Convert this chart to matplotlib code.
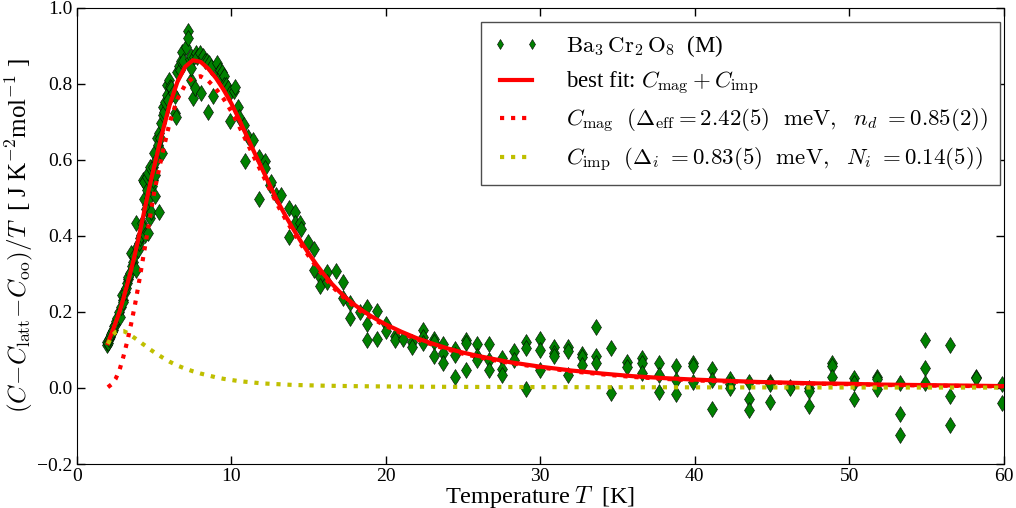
import matplotlib
matplotlib.use("Agg")
import matplotlib.pyplot as plt

plt.rcParams["font.family"] = "serif"
plt.rcParams["font.serif"] = ["Liberation Serif", "DejaVu Serif"]
plt.rcParams["mathtext.fontset"] = "cm"
plt.rcParams["axes.unicode_minus"] = True

# measured heat capacity, Ba3Cr2O8 (M)
T_data = [
    1.92, 1.95, 2.00, 2.05, 2.13, 2.20, 2.28, 2.35, 2.42, 2.46, 2.55, 2.62, 2.71, 2.78,
    2.85, 2.89, 2.95, 3.00, 3.08, 3.15, 3.21, 3.28, 3.32, 3.40, 3.49, 3.55, 3.64, 3.70,
    3.80, 3.81, 3.86, 3.92, 4.00, 4.07, 4.13, 4.18, 4.25, 4.29, 4.35, 4.35, 4.40, 4.45,
    4.50, 4.50, 4.56, 4.61, 4.61, 4.66, 4.72, 4.72, 4.78, 4.84, 4.93, 4.93, 4.98, 5.04,
    5.08, 5.10, 5.19, 5.26, 5.32, 5.32, 5.36, 5.41, 5.48, 5.54, 5.58, 5.65, 5.72, 5.80,
    5.85, 5.90, 5.97, 6.01, 6.10, 6.22, 6.33, 6.33, 6.44, 6.50, 6.60, 6.66, 6.75, 6.83,
    6.87, 7.05, 7.20, 7.20, 7.30, 7.35, 7.41, 7.41, 7.52, 7.55, 7.63, 7.70, 7.78, 7.95,
    8.06, 8.16, 8.27, 8.43, 8.50, 8.55, 8.70, 8.81, 9.06, 9.13, 9.24, 9.35, 9.41, 9.50,
    9.55, 9.63, 9.75, 9.90, 9.93, 10.15, 10.20, 10.45, 10.50, 10.80, 10.86, 11.10, 11.40,
    11.80, 11.80, 12.15, 12.15, 12.50, 12.55, 12.90, 13.20, 13.70, 13.70, 14.10, 14.10,
    14.45, 14.50, 14.95, 15.35, 15.35, 15.75, 15.75, 16.20, 16.20, 16.80, 17.20, 17.20,
    17.70, 17.70, 18.30, 18.80, 18.80, 18.80, 19.40, 19.40, 20.00, 20.00, 20.60, 20.60,
    21.10, 21.70, 21.70,
    22.4, 22.4, 22.4, 23.1, 23.1, 23.1, 23.7, 23.7, 23.7, 24.5, 24.5, 24.5, 25.2, 25.2, 25.2,
    25.9, 25.9, 25.9, 26.7, 26.7, 26.7, 27.5, 27.5, 27.5, 28.3, 28.3, 29.1, 29.1, 29.1,
    30.0, 30.0, 30.0, 30.9, 30.9, 30.9, 31.8, 31.8, 31.8, 32.7, 32.7, 32.7, 33.6, 33.6, 33.6,
    34.6, 34.6, 35.6, 35.6, 36.6, 36.6, 36.6, 37.7, 37.7, 37.7, 38.8, 38.8, 38.8,
    39.9, 39.9, 39.9, 41.1, 41.1, 41.1, 42.3, 42.3, 42.3, 43.5, 43.5, 43.5, 44.9, 44.9, 44.9,
    46.2, 46.2, 47.4, 47.4, 47.4, 48.9, 48.9, 48.9, 50.3, 50.3, 50.3, 51.8, 51.8, 51.8,
    53.3, 53.3, 53.3, 54.9, 54.9, 54.9, 56.5, 56.5, 56.5, 58.2, 58.2, 59.9, 59.9,
]
C_data = [
    0.113, 0.122, 0.118, 0.128, 0.135, 0.142, 0.148, 0.153, 0.162, 0.166, 0.176, 0.185, 0.201, 0.188,
    0.214, 0.245, 0.232, 0.227, 0.252, 0.262, 0.276, 0.286, 0.293, 0.302, 0.354, 0.322, 0.332, 0.346,
    0.311, 0.435, 0.372, 0.363, 0.381, 0.394, 0.402, 0.433, 0.421, 0.547, 0.497, 0.543, 0.403, 0.472,
    0.521, 0.556, 0.482, 0.407, 0.565, 0.501, 0.447, 0.580, 0.464, 0.530, 0.547, 0.582, 0.618, 0.561,
    0.505, 0.600, 0.657, 0.639, 0.464, 0.670, 0.657, 0.697, 0.618, 0.718, 0.738, 0.726, 0.752, 0.797,
    0.771, 0.758, 0.811, 0.793, 0.790, 0.777, 0.767, 0.724, 0.714, 0.830, 0.847, 0.837, 0.860, 0.885,
    0.859, 0.898, 0.938, 0.921, 0.866, 0.809, 0.874, 0.841, 0.762, 0.870, 0.789, 0.880, 0.870, 0.881,
    0.777, 0.874, 0.859, 0.859, 0.727, 0.854, 0.845, 0.768, 0.856, 0.828, 0.837, 0.824, 0.830, 0.820,
    0.797, 0.797, 0.790, 0.701, 0.775, 0.780, 0.791, 0.740, 0.712, 0.692, 0.598, 0.661, 0.651,
    0.607, 0.497, 0.596, 0.578, 0.534, 0.543, 0.508, 0.508, 0.473, 0.398, 0.464, 0.434,
    0.433, 0.418, 0.385, 0.365, 0.311, 0.293, 0.267, 0.306, 0.280, 0.309, 0.280, 0.236,
    0.223, 0.184, 0.201, 0.214, 0.168, 0.127, 0.203, 0.128, 0.168, 0.151, 0.137, 0.125,
    0.128, 0.122, 0.109,
    0.153, 0.135, 0.118, 0.128, 0.122, 0.084, 0.116, 0.091, 0.065, 0.103, 0.087, 0.030, 0.126, 0.118, 0.046,
    0.115, 0.084, 0.074, 0.115, 0.074, 0.046, 0.078, 0.049, 0.034, 0.097, 0.074, 0.122, 0.104, -0.004,
    0.129, 0.100, 0.047, 0.109, 0.093, 0.084, 0.109, 0.096, 0.034, 0.089, 0.081, 0.061, 0.160, 0.084, 0.065,
    0.104, -0.014, 0.069, 0.056, 0.078, 0.067, 0.040, 0.067, 0.034, -0.010, 0.058, 0.021, -0.016,
    0.065, 0.058, 0.017, 0.049, 0.021, -0.056, 0.023, 0.011, -0.001, 0.017, -0.030, -0.058, 0.017, 0.011, -0.036,
    0.003, -0.001, -0.001, -0.007, -0.047, 0.067, 0.058, 0.030, 0.025, 0.012, -0.030, 0.030, 0.023, -0.004,
    0.012, -0.069, -0.125, 0.126, 0.052, 0.014, 0.113, -0.021, -0.097, 0.030, 0.025, 0.011, -0.039,
]

# fit curves
T_fit = [
    2.0, 2.25, 2.5, 2.75, 3.0, 3.25, 3.5, 3.75, 4.0, 4.25, 4.5, 4.75, 5.0, 5.5, 6.0, 6.5,
    7.0, 7.5, 8.0, 8.5, 9.0, 9.5, 10.0, 10.5, 11.0, 11.5, 12.0, 12.5, 13.0, 13.5, 14.0,
    14.5, 15.0, 15.5, 16.0, 16.5, 17.0, 17.5, 18.0, 18.5, 19.0, 19.5, 20.0, 21.0, 22.0,
    23.0, 24.0, 25.0, 26.0, 27.0, 28.0, 29.0, 30.0, 32.0, 34.0, 36.0, 38.0, 40.0, 42.0,
    44.0, 46.0, 48.0, 50.0, 52.0, 54.0, 56.0, 58.0, 60.0,
]
C_total = [
    0.118, 0.145, 0.172, 0.200, 0.235, 0.272, 0.310, 0.352, 0.397, 0.445, 0.493, 0.540, 0.583, 0.668, 0.745, 0.805,
    0.845, 0.862, 0.858, 0.840, 0.815, 0.784, 0.748, 0.706, 0.662, 0.618, 0.575, 0.532, 0.490, 0.453, 0.418,
    0.385, 0.354, 0.325, 0.298, 0.274, 0.253, 0.234, 0.218, 0.203, 0.190, 0.178, 0.167, 0.148, 0.131,
    0.117, 0.104, 0.093, 0.084, 0.076, 0.068, 0.062, 0.056, 0.046, 0.038, 0.031, 0.026, 0.022, 0.019,
    0.016, 0.014, 0.012, 0.011, 0.009, 0.008, 0.007, 0.006, 0.005,
]
C_mag = [
    0.002, 0.010, 0.024, 0.047, 0.082, 0.122, 0.168, 0.218, 0.275, 0.335, 0.395, 0.455, 0.515, 0.612, 0.698, 0.760,
    0.797, 0.816, 0.820, 0.808, 0.787, 0.760, 0.727, 0.688, 0.646, 0.604, 0.563, 0.521, 0.480, 0.444, 0.410,
    0.378, 0.347, 0.319, 0.292, 0.268, 0.248, 0.229, 0.213, 0.198, 0.186, 0.174, 0.163, 0.144, 0.128,
    0.114, 0.101, 0.090, 0.081, 0.073, 0.066, 0.060, 0.054, 0.044, 0.036, 0.029, 0.024, 0.020, 0.017,
    0.015, 0.013, 0.011, 0.010, 0.008, 0.007, 0.006, 0.005, 0.004,
]
C_imp = [
    0.116, 0.136, 0.147, 0.150, 0.150, 0.145, 0.138, 0.131, 0.124, 0.116, 0.109, 0.101, 0.094, 0.081, 0.069, 0.059,
    0.051, 0.044, 0.038, 0.033, 0.028, 0.024, 0.021, 0.018, 0.016, 0.014, 0.012, 0.011, 0.010, 0.009, 0.008,
    0.0075, 0.007, 0.0065, 0.006, 0.0057, 0.0054, 0.0051, 0.0048, 0.0046, 0.0044, 0.0042, 0.004, 0.0037, 0.0034,
    0.0032, 0.003, 0.0028, 0.0027, 0.0026, 0.0025, 0.0024, 0.0023, 0.0021, 0.002, 0.0019, 0.0018, 0.0017, 0.0016,
    0.0015, 0.0014, 0.0013, 0.0013, 0.0012, 0.0012, 0.0011, 0.0011, 0.001,
]

label_data = r"$\mathrm{Ba_3\,Cr_2\,O_8}$  (M)"
label_total = r"best fit: $C_{\rm mag}+C_{\rm imp}$"
label_mag = r"$C_{\rm mag}\ \ (\Delta_{\rm eff}=2.42(5)\ \ {\rm meV},\ \ n_d\ =0.85(2))$"
label_imp = r"$C_{\rm imp}\ \ (\Delta_i\ =0.83(5)\ \ {\rm meV},\ \ N_i\ =0.14(5))$"

fig = plt.figure(figsize=(10.16, 5.08), dpi=100)
ax = fig.add_axes([0.0758, 0.0866, 0.912, 0.898])

ax.plot(T_data, C_data, ls="none", marker="d", ms=8, mfc="g", mec="k", mew=0.4,
        label=label_data, zorder=2)
ax.plot(T_fit, C_total, color="r", lw=3, label=label_total, zorder=3)
ax.plot(T_fit, C_mag, color="r", lw=3, ls=":", label=label_mag, zorder=4)
ax.plot(T_fit, C_imp, color="y", lw=3, ls=":", label=label_imp, zorder=5)

ax.set_xlim(0, 60)
ax.set_ylim(-0.2, 1.0)
ax.set_xticks([0, 10, 20, 30, 40, 50, 60])
ax.set_yticks([-0.2, 0.0, 0.2, 0.4, 0.6, 0.8, 1.0])
ax.set_yticklabels(["\u22120.2", "0.0", "0.2", "0.4", "0.6", "0.8", "1.0"])
ax.tick_params(direction="in", top=True, right=True, length=6, width=1, labelsize=14, pad=3)

ax.set_xlabel(r"Temperature $T$  [K]", fontsize=17.5, labelpad=-1)
ax.set_ylabel(r"$(C\!-\!C_{\rm latt}\!-\!C_{\rm oo})/T$  [ J K$^{-2}$mol$^{-1}$ ]",
              fontsize=18, labelpad=2)

leg = ax.legend(loc="upper right", bbox_to_anchor=(0.996, 0.969), borderaxespad=0,
                fontsize=16.5, numpoints=2, markerscale=0.6, handlelength=2.0,
                handletextpad=1.2, labelspacing=0.45, fancybox=False, framealpha=1,
                borderpad=0.5)
leg.get_frame().set_edgecolor("0.3")
leg.get_frame().set_linewidth(1)

fig.savefig("out.png", dpi=100, facecolor="white")
